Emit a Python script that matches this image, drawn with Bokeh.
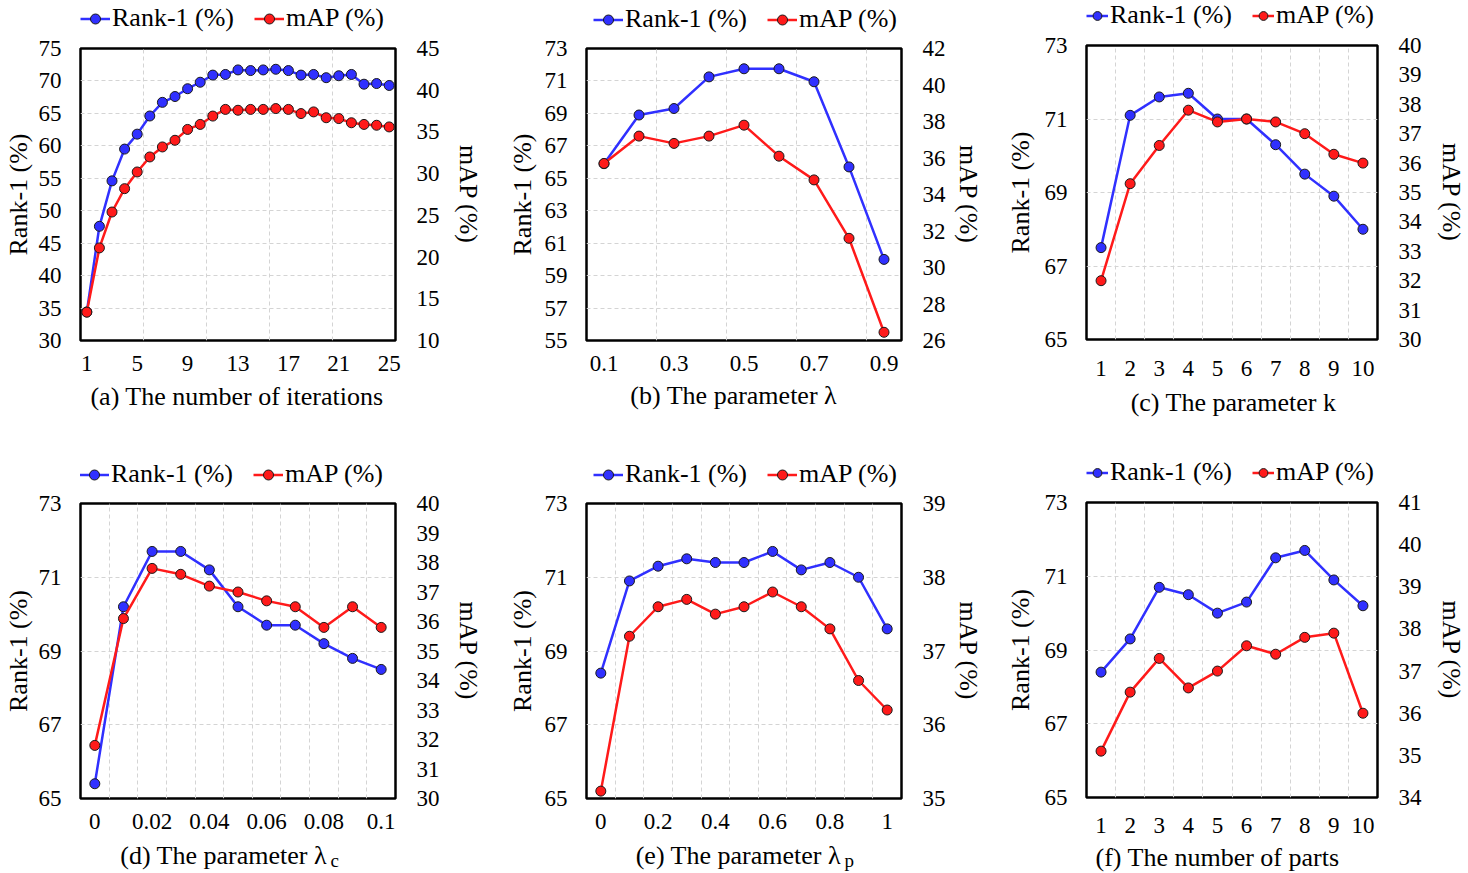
from bokeh.plotting import figure
from bokeh.models import (Range1d, LinearAxis, FixedTicker, Legend, LegendItem,
                          NumeralTickFormatter, Label)
from bokeh.layouts import column, row
from bokeh.embed import file_html
from bokeh.resources import INLINE

FONT = "Liberation Serif"
BLUE = "#3030ff"
RED = "#ff1a1a"

# ---------------- data ----------------
A_X = list(range(1, 26))
A_RANK1 = [34.4, 47.6, 54.6, 59.5, 61.8, 64.6, 66.7, 67.6, 68.8, 69.8, 70.9, 71.0, 71.7,
           71.6, 71.7, 71.8, 71.6, 70.9, 71.0, 70.5, 70.8, 71.0, 69.5, 69.6, 69.3]
A_MAP = [13.4, 21.1, 25.4, 28.2, 30.2, 32.0, 33.2, 34.0, 35.3, 35.9, 36.9, 37.7, 37.6,
         37.7, 37.7, 37.8, 37.7, 37.2, 37.4, 36.7, 36.6, 36.1, 35.9, 35.8, 35.6]
A_XTICKS = [1, 5, 9, 13, 17, 21, 25]
A_LTICKS = [30, 35, 40, 45, 50, 55, 60, 65, 70, 75]
A_RTICKS = [10, 15, 20, 25, 30, 35, 40, 45]

B_X = [0.1, 0.2, 0.3, 0.4, 0.5, 0.6, 0.7, 0.8, 0.9]
B_RANK1 = [65.9, 68.9, 69.3, 71.25, 71.75, 71.75, 70.95, 65.7, 60.0]
B_MAP = [35.7, 37.2, 36.8, 37.2, 37.8, 36.1, 34.8, 31.6, 26.45]
B_XTICKS = [0.1, 0.3, 0.5, 0.7, 0.9]
B_LTICKS = [55, 57, 59, 61, 63, 65, 67, 69, 71, 73]
B_RTICKS = [26, 28, 30, 32, 34, 36, 38, 40, 42]

C_X = [1, 2, 3, 4, 5, 6, 7, 8, 9, 10]
C_RANK1 = [67.5, 71.1, 71.6, 71.7, 71.0, 71.0, 70.3, 69.5, 68.9, 68.0]
C_MAP = [32.0, 35.3, 36.6, 37.8, 37.4, 37.5, 37.4, 37.0, 36.3, 36.0]
C_XTICKS = [1, 2, 3, 4, 5, 6, 7, 8, 9, 10]
C_LTICKS = [65, 67, 69, 71, 73]
C_RTICKS = [30, 31, 32, 33, 34, 35, 36, 37, 38, 39, 40]

D_X = [0, 0.01, 0.02, 0.03, 0.04, 0.05, 0.06, 0.07, 0.08, 0.09, 0.1]
D_RANK1 = [65.4, 70.2, 71.7, 71.7, 71.2, 70.2, 69.7, 69.7, 69.2, 68.8, 68.5]
D_MAP = [31.8, 36.1, 37.8, 37.6, 37.2, 37.0, 36.7, 36.5, 35.8, 36.5, 35.8]
D_XTICKS = [0, 0.02, 0.04, 0.06, 0.08, 0.1]
D_LTICKS = [65, 67, 69, 71, 73]
D_RTICKS = [30, 31, 32, 33, 34, 35, 36, 37, 38, 39, 40]

E_X = [0, 0.1, 0.2, 0.3, 0.4, 0.5, 0.6, 0.7, 0.8, 0.9, 1.0]
E_RANK1 = [68.4, 70.9, 71.3, 71.5, 71.4, 71.4, 71.7, 71.2, 71.4, 71.0, 69.6]
E_MAP = [35.1, 37.2, 37.6, 37.7, 37.5, 37.6, 37.8, 37.6, 37.3, 36.6, 36.2]
E_XTICKS = [0, 0.2, 0.4, 0.6, 0.8, 1]
E_LTICKS = [65, 67, 69, 71, 73]
E_RTICKS = [35, 36, 37, 38, 39]

F_X = [1, 2, 3, 4, 5, 6, 7, 8, 9, 10]
F_RANK1 = [68.4, 69.3, 70.7, 70.5, 70.0, 70.3, 71.5, 71.7, 70.9, 70.2]
F_MAP = [35.1, 36.5, 37.3, 36.6, 37.0, 37.6, 37.4, 37.8, 37.9, 36.0]
F_XTICKS = [1, 2, 3, 4, 5, 6, 7, 8, 9, 10]
F_LTICKS = [65, 67, 69, 71, 73]
F_RTICKS = [34, 35, 36, 37, 38, 39, 40, 41]

SERIES_NAMES = ["Rank-1 (%)", "mAP (%)"]
Y_LEFT_LABEL = "Rank-1 (%)"
Y_RIGHT_LABEL = "mAP (%)"
TITLES = ["(a) The number of iterations", "(b) The parameter  λ", "(c) The parameter k",
          "(d) The parameter  λ", "(e) The parameter  λ", "(f) The number of parts"]
SUBS = [None, None, None, "c", "p", None]


def style_axis(ax, size="23px"):
    ax.axis_line_color = None
    ax.major_tick_line_color = None
    ax.minor_tick_line_color = None
    ax.major_label_text_font = FONT
    ax.major_label_text_font_size = size
    ax.major_label_text_color = "black"
    ax.axis_label_text_font = FONT
    ax.axis_label_text_font_size = "26px"
    ax.axis_label_text_font_style = "normal"
    ax.axis_label_text_color = "black"


def blank_fig(w, h):
    f = figure(width=w, height=h, x_range=Range1d(0, 1), y_range=Range1d(0, 1),
               output_backend="svg", toolbar_location=None,
               x_axis_location=None, y_axis_location=None,
               min_border_left=0, min_border_right=0, min_border_top=0, min_border_bottom=0)
    f.grid.visible = False
    f.outline_line_color = None
    f.background_fill_color = "white"
    f.border_fill_color = "white"
    return f


def legend_fig(w, h, xs, rank1, mapv, lx, ly, glyph_w=30):
    # legend proxies: the series themselves, lying outside this strip's 0..1 ranges
    f = blank_fig(w, h)
    l1 = f.line(xs, rank1, line_color=BLUE, line_width=2.5)
    s1 = f.scatter(xs, rank1, size=10, fill_color=BLUE, line_color="#1a1a1a", line_width=1)
    l2 = f.line(xs, mapv, line_color=RED, line_width=2.5)
    s2 = f.scatter(xs, mapv, size=10, fill_color=RED, line_color="#1a1a1a", line_width=1)
    legend = Legend(items=[LegendItem(label=SERIES_NAMES[0], renderers=[l1, s1]),
                           LegendItem(label=SERIES_NAMES[1], renderers=[l2, s2])],
                    location=(lx, ly), orientation="horizontal",
                    glyph_width=glyph_w, glyph_height=25, label_standoff=2, spacing=20,
                    padding=0, margin=0, border_line_color=None, background_fill_alpha=0,
                    label_text_font=FONT, label_text_font_size="26px", label_text_color="black")
    f.add_layout(legend)
    return f


def caption_fig(w, h, title, sub, tx, ty, align="center"):
    f = blank_fig(w, h)
    f.add_layout(Label(x=tx, y=ty, x_units="screen", y_units="screen", text=title,
                       text_align=align, text_baseline="middle", text_font=FONT,
                       text_font_size="26px", text_color="black"))
    if sub is not None:
        f.add_layout(Label(x=tx - 3, y=ty - 5, x_units="screen", y_units="screen", text=sub,
                           text_align="left", text_baseline="middle", text_font=FONT,
                           text_font_size="19px", text_color="black"))
    return f


def main_fig(xs, rank1, mapv, x_range, x_ticks, x_fmt, vgrid, l_ticks, r_ticks,
             w, h, bl, br, bt, bb, xstand, lstand=4, rstand=10, ltick=13, rtick=15):
    x0, x1 = x_range
    p = figure(width=w, height=h, x_range=Range1d(x0, x1),
               y_range=Range1d(l_ticks[0], l_ticks[-1]),
               output_backend="svg", toolbar_location=None,
               min_border_left=bl, min_border_right=br, min_border_top=bt, min_border_bottom=bb)
    p.extra_y_ranges = {"map": Range1d(r_ticks[0], r_ticks[-1])}
    p.background_fill_color = "white"
    p.border_fill_color = "white"
    p.outline_line_color = "black"
    p.outline_line_width = 2.5

    p.xgrid.ticker = FixedTicker(ticks=vgrid)
    p.ygrid.ticker = FixedTicker(ticks=l_ticks)
    for g in (p.xgrid, p.ygrid):
        g.grid_line_color = "#d4d4d4"
        g.grid_line_dash = "4 3"
        g.grid_line_width = 1

    xa = p.xaxis[0]
    xa.ticker = FixedTicker(ticks=x_ticks)
    xa.formatter = NumeralTickFormatter(format=x_fmt)
    xa.major_label_standoff = xstand
    style_axis(xa)
    ya = p.yaxis[0]
    ya.ticker = FixedTicker(ticks=l_ticks)
    ya.axis_label = Y_LEFT_LABEL
    ya.major_label_standoff = ltick
    ya.axis_label_standoff = lstand
    style_axis(ya)
    ra = LinearAxis(y_range_name="map", ticker=FixedTicker(ticks=r_ticks), axis_label=Y_RIGHT_LABEL)
    ra.major_label_standoff = rtick
    ra.axis_label_standoff = rstand
    style_axis(ra)
    p.add_layout(ra, "right")

    p.line(xs, rank1, line_color=BLUE, line_width=2.5)
    p.scatter(xs, rank1, size=10, fill_color=BLUE, line_color="#1a1a1a", line_width=1)
    p.line(xs, mapv, line_color=RED, line_width=2.5, y_range_name="map")
    p.scatter(xs, mapv, size=10, fill_color=RED, line_color="#1a1a1a", line_width=1,
              y_range_name="map")
    return p


# ---- row 1 (0..437) ----
pa = main_fig(A_X, A_RANK1, A_MAP, (0.5, 25.5), A_XTICKS, "0", [5.5, 10.5, 15.5, 20.5],
              A_LTICKS, A_RTICKS, 490, 344, 80, 95, 14, 38, 9, lstand=3, rstand=11)
pb = main_fig(B_X, B_RANK1, B_MAP, (0.05, 0.95), B_XTICKS, "0.0", [0.25, 0.45, 0.65, 0.85],
              B_LTICKS, B_RTICKS, 495, 344, 96, 84, 14, 38, 9, lstand=5, rstand=5)
pc = main_fig(C_X, C_RANK1, C_MAP, (0.5, 10.5), C_XTICKS, "0", [i + 0.5 for i in range(1, 10)],
              C_LTICKS, C_RTICKS, 483, 351, 101, 91, 14, 43, 15, lstand=7, rstand=12)
col_a = column(legend_fig(490, 34, A_X, A_RANK1, A_MAP, 0, 1), pa,
               caption_fig(490, 59, TITLES[0], SUBS[0], 156.5, 41))
col_b = column(legend_fig(495, 34, B_X, B_RANK1, B_MAP, 7, 0), pb,
               caption_fig(495, 59, TITLES[1], SUBS[1], 150.5, 42))
col_c = column(legend_fig(483, 31, C_X, C_RANK1, C_MAP, 0, 1, glyph_w=22), pc,
               caption_fig(483, 55, TITLES[2], SUBS[2], 147, 35))

# ---- row 2 (437..873) ----
pd = main_fig(D_X, D_RANK1, D_MAP, (-0.005, 0.105), D_XTICKS, "0.[00]",
              [0.005 + 0.01 * i for i in range(10)],
              D_LTICKS, D_RTICKS, 490, 347, 80, 95, 14, 38, 9, lstand=3, rstand=11)
pe = main_fig(E_X, E_RANK1, E_MAP, (-0.05, 1.05), E_XTICKS, "0.[0]",
              [0.05 + 0.1 * i for i in range(10)],
              E_LTICKS, E_RTICKS, 495, 347, 96, 84, 14, 38, 9, lstand=5, rstand=5)
pf = main_fig(F_X, F_RANK1, F_MAP, (0.5, 10.5), F_XTICKS, "0", [i + 0.5 for i in range(1, 10)],
              F_LTICKS, F_RTICKS, 483, 351, 101, 91, 14, 42, 14, lstand=7, rstand=12)
col_d = column(legend_fig(490, 52, D_X, D_RANK1, D_MAP, -1, 0), pd,
               caption_fig(490, 37, TITLES[3], SUBS[3], 253, 18, align="right"))
col_e = column(legend_fig(495, 52, E_X, E_RANK1, E_MAP, 7, 0), pe,
               caption_fig(495, 37, TITLES[4], SUBS[4], 261, 18, align="right"))
col_f = column(legend_fig(483, 51, F_X, F_RANK1, F_MAP, 0, 1, glyph_w=22), pf,
               caption_fig(483, 34, TITLES[5], SUBS[5], 131, 16))

layout = column(row(col_a, col_b, col_c, spacing=0), row(col_d, col_e, col_f, spacing=0), spacing=0)
open("out.html", "w").write(file_html(layout, INLINE))
